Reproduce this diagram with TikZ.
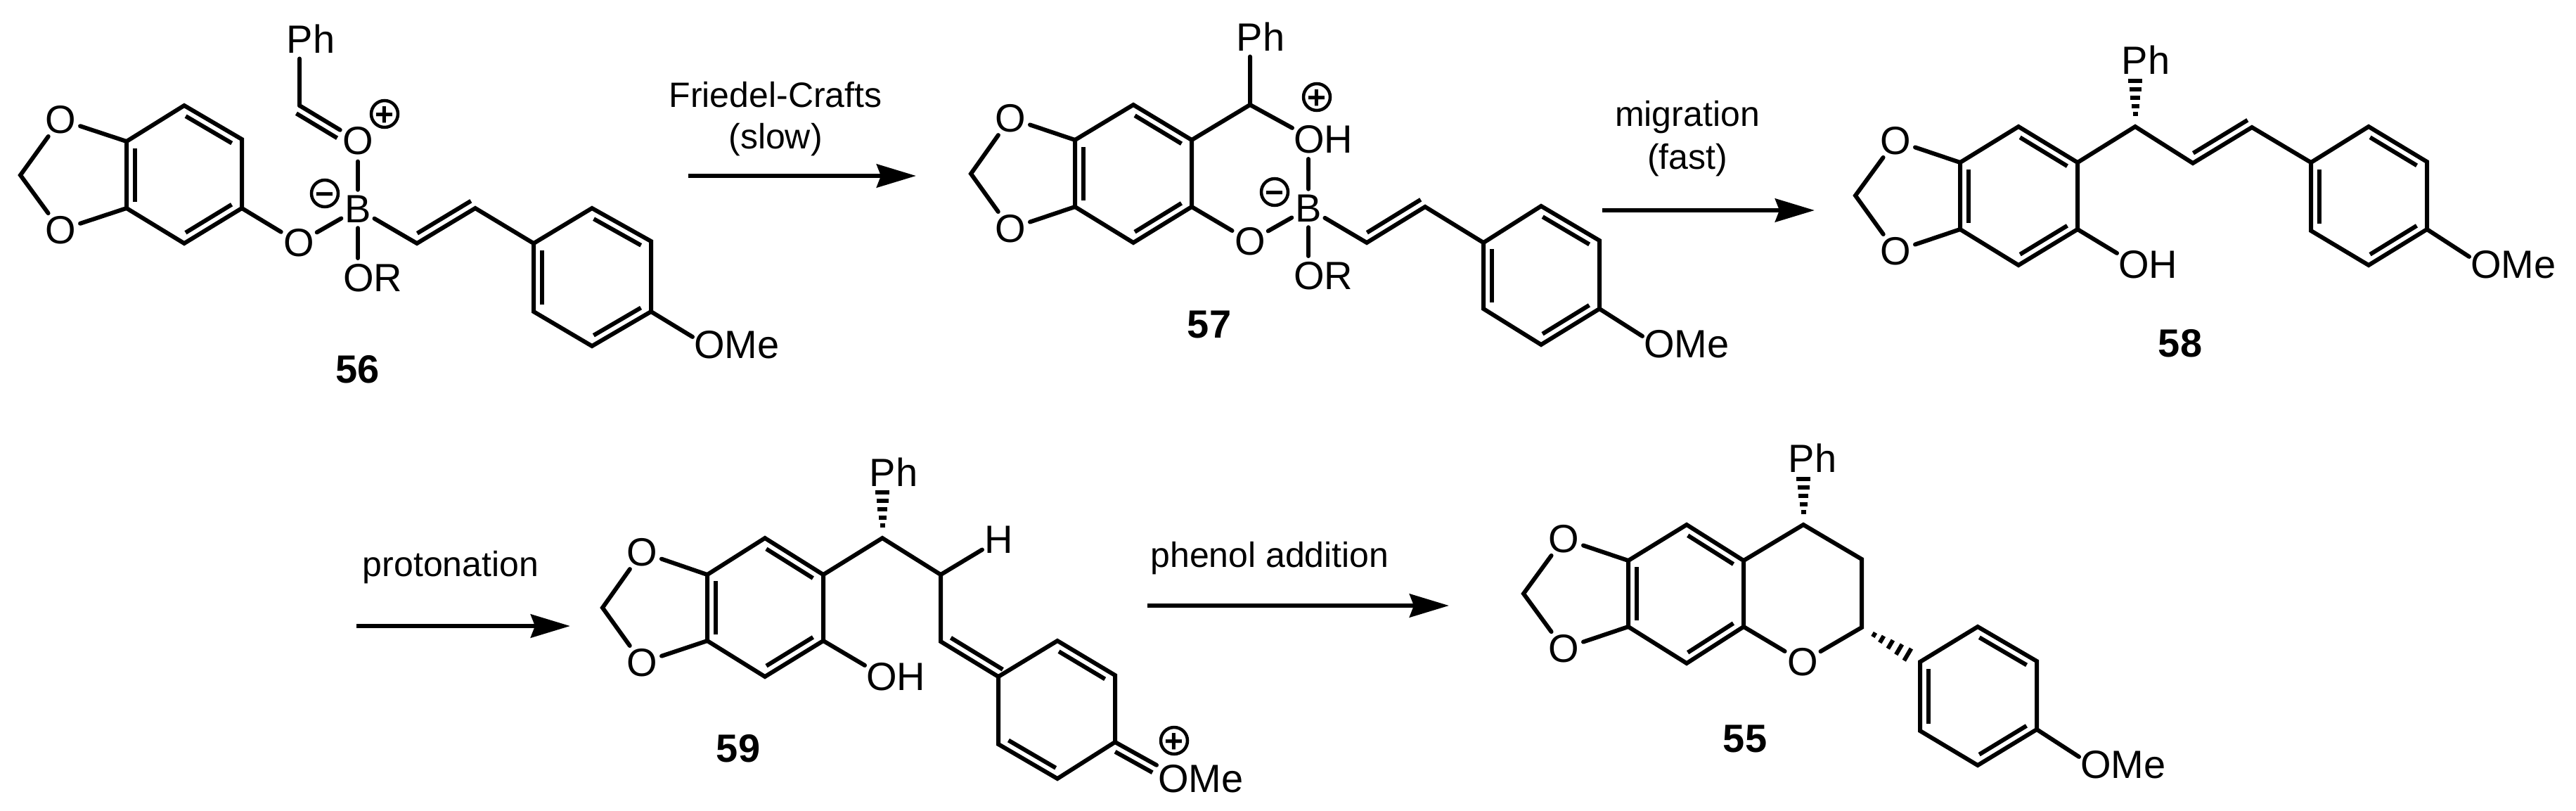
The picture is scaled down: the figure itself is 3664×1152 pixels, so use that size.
\documentclass[tikz,border=0pt]{standalone}
\usepackage{fontspec}
\setmainfont{Liberation Sans}
\usetikzlibrary{calc,arrows.meta}
\tikzset{
  bd/.style={line width=6pt,line cap=round,line join=miter,black},
  bdi/.style={line width=6pt,line cap=butt,black},
  atom/.style={circle,inner sep=0pt,minimum size=54pt,font=\fontsize{56}{60}\selectfont},
  grp/.style={inner xsep=2pt,inner ysep=8pt,font=\fontsize{56}{60}\selectfont},
  grpw/.style={grp,anchor=west},
  tx/.style={inner sep=0pt,font=\fontsize{50}{56}\selectfont},
  num/.style={inner sep=0pt,font=\bfseries\fontsize{56}{60}\selectfont},
  chg/.style={circle,draw,line width=4.5pt,minimum size=38pt,inner sep=0pt,font=\bfseries\fontsize{46}{46}\selectfont},
  rxn/.style={line width=6.5pt,-{Stealth[length=56pt,width=33pt,inset=6pt]}},
}
\newcommand{\chgsym}[1]{\makebox[0pt]{\raisebox{0pt}[.7em][0pt]{#1}}}
% #1,#2 ends, #3 side angle, #4,#5 fractions along the bond
\newcommand{\dblx}[5]{\draw[bdi] ($(#1)!#4!(#2)+($(#1)!12pt!#3:(#2)$)-(#1)$) -- ($(#1)!#5!(#2)+($(#1)!12pt!#3:(#2)$)-(#1)$);}
\newcommand{\dbl}[2]{\dblx{#1}{#2}{-90}{.1}{.9}}
% hashed wedge from narrow end #1 to wide end #2
\newcommand{\hashb}[2]{%
  \foreach \f/\w in {.26/3.5,.42/5.5,.6/7,.78/8.5,.96/10}{%
    \draw[line width=6pt,black] ($(#1)!\f!(#2)+($(#1)!\w pt!90:(#2)$)-(#1)$) -- ($(#1)!\f!(#2)+($(#1)!\w pt!-90:(#2)$)-(#1)$);}}
\newcommand{\ringsix}[7]{% name, six vertices clockwise from the top
  \coordinate (#1a) at (#2); \coordinate (#1b) at (#3); \coordinate (#1c) at (#4);
  \coordinate (#1d) at (#5); \coordinate (#1e) at (#6); \coordinate (#1f) at (#7);
  \draw[bd] (#1a)--(#1b)--(#1c)--(#1d)--(#1e)--(#1f)--cycle;
  \dbl{#1a}{#1b}\dbl{#1c}{#1d}\dbl{#1e}{#1f}}
% dioxole: ring name, O top, O bottom, CH2 position
\newcommand{\dioxole}[4]{%
  \node[atom] (#1ot) at (#2) {O};
  \node[atom] (#1ob) at (#3) {O};
  \coordinate (#1ch) at (#4);
  \draw[bd] (#1f)--(#1ot)--(#1ch)--(#1ob)--(#1e);}
\begin{document}
\begin{tikzpicture}[x=1pt,y=-1pt]
\useasboundingbox (0,0) rectangle (3664,1152);
% ---------- 56 ----------
\ringsix{Pa}{262,150}{344,198}{344,296}{262,346}{180,296}{180,201}
\dioxole{Pa}{86,170}{86,327}{29,249}
\node[atom] (Pol) at (425,345) {O};
\node[atom] (Pbo) at (509,297) {B};
\node[atom] (Pop) at (509,200) {O};
\coordinate (Pcar) at (426,150);
\node[grp] (Pph) at (442,55) {Ph};
\node[grpw] (Por) at (486,395) {OR};
\draw[bd] (Pcar) -- (Pcar |- Pph.south);
\draw[bd] (Pcar) -- (Pop);
\dblx{Pcar}{Pop}{-90}{.02}{.72}
\draw[bd] (Pbo.north) -- (Pop.south);
\draw[bd] (Pbo.south) -- (Pbo.south |- Por.north);
\draw[bd] (Pac) -- (Pol) -- (Pbo);
\node[chg] (Pplus) at (547,162) {\chgsym{+}};
\node[chg] (Pminus) at (462,275) {\chgsym{−}};
\coordinate (Pv1) at (593,346);
\coordinate (Pv2) at (676,296);
\ringsix{Pb}{842,296}{926,343}{926,443}{842,492}{759,443}{759,346}
\draw[bd] (Pbo) -- (Pv1) -- (Pv2) -- (Pbf);
\dblx{Pv1}{Pv2}{90}{.08}{1}
\node[grpw] (Pome) at (985,490) {OMe};
\draw[bd] (Pbc) -- (Pome.170);
\node[num] (Plab) at (509,525) {56};
% ---------- arrow 1 ----------
\coordinate (Rs1) at (979,250);
\coordinate (Re1) at (1303,250);
\draw[rxn] (Rs1) -- (Re1);
\node[tx] (Rt1a) at (1103,135) {Friedel-Crafts};
\node[tx] (Rt1b) at (1103,199) {(slow)};
% ---------- 57 ----------
\ringsix{Qa}{1612,149}{1695,199}{1695,294}{1612,345}{1529,294}{1529,199}
\dioxole{Qa}{1437,168}{1437,325}{1381,247}
\coordinate (Qch) at (1778,149);
\node[grp] (Qph) at (1793,52) {Ph};
\node[grpw] (Qoh) at (1838,198) {OH};
\node[atom] (Qbo) at (1861,296) {B};
\node[atom] (Qol) at (1778,343) {O};
\node[grpw] (Qor) at (1838,392) {OR};
\draw[bd] (Qab) -- (Qch) -- (Qch |- Qph.south);
\draw[bd] (Qch) -- (Qoh.160);
\draw[bd] (Qbo.north) -- (Qbo.north |- Qoh.south);
\draw[bd] (Qbo.south) -- (Qbo.south |- Qor.north);
\draw[bd] (Qac) -- (Qol) -- (Qbo);
\node[chg] (Qplus) at (1873,138) {\chgsym{+}};
\node[chg] (Qminus) at (1813,273) {\chgsym{−}};
\coordinate (Qv1) at (1944,345);
\coordinate (Qv2) at (2027,294);
\ringsix{Qb}{2192,293}{2275,342}{2275,439}{2192,490}{2110,439}{2110,345}
\draw[bd] (Qbo) -- (Qv1) -- (Qv2) -- (Qbf);
\dblx{Qv1}{Qv2}{90}{.08}{1}
\node[grpw] (Qome) at (2336,489) {OMe};
\draw[bd] (Qbc) -- (Qome.170);
\node[num] (Qlab) at (1720,461) {57};
% ---------- arrow 2 ----------
\coordinate (Rs2) at (2279,299);
\coordinate (Re2) at (2581,299);
\draw[rxn] (Rs2) -- (Re2);
\node[tx] (Rt2a) at (2400,167) {migration};
\node[tx] (Rt2b) at (2400,228) {(fast)};
% ---------- 58 ----------
\ringsix{Sa}{2871,180}{2955,231}{2955,326}{2871,377}{2788,326}{2788,231}
\dioxole{Sa}{2696,200}{2696,357}{2639,278}
\coordinate (Sch) at (3037,180);
\coordinate (Shs) at (3037,112);
\node[grp] (Sph) at (3052,85) {Ph};
\hashb{Sch}{Shs}
\coordinate (Sv1) at (3119,232);
\coordinate (Sv2) at (3203,181);
\ringsix{Sb}{3369,180}{3452,230}{3452,326}{3369,377}{3287,328}{3287,231}
\draw[bd] (Sab) -- (Sch) -- (Sv1) -- (Sv2) -- (Sbf);
\dblx{Sv1}{Sv2}{90}{.08}{1}
\node[grpw] (Soh) at (3011,376) {OH};
\draw[bd] (Sac) -- (Soh.160);
\node[grpw] (Some) at (3512,376) {OMe};
\draw[bd] (Sbc) -- (Some.170);
\node[num] (Slab) at (3101,488) {58};
% ---------- arrow 3 ----------
\coordinate (Rs3) at (507,890);
\coordinate (Re3) at (811,890);
\draw[rxn] (Rs3) -- (Re3);
\node[tx] (Rt3) at (641,807) {protonation};
% ---------- 59 ----------
\ringsix{Ta}{1088,765}{1171,817}{1171,911}{1088,962}{1006,911}{1006,817}
\dioxole{Ta}{913,785}{913,942}{857,864}
\coordinate (Tch) at (1255,765);
\coordinate (Ths) at (1255,697);
\node[grp] (Tph) at (1271,671) {Ph};
\hashb{Tch}{Ths}
\coordinate (Tc2) at (1338,817);
\coordinate (Tc3) at (1338,912);
\node[atom,minimum size=40pt] (Th) at (1421,767) {H};
\coordinate (Tr1) at (1420,962);
\draw[bd] (Tab) -- (Tch) -- (Tc2) -- (Tc3) -- (Tr1);
\draw[bd] (Tc2) -- (Th);
\dblx{Tc3}{Tr1}{90}{.1}{1}
\coordinate (Tr2) at (1504,911);
\coordinate (Tr3) at (1586,960);
\coordinate (Tr4) at (1586,1055);
\coordinate (Tr5) at (1504,1107);
\coordinate (Tr6) at (1420,1058);
\draw[bd] (Tr1) -- (Tr2) -- (Tr3) -- (Tr4) -- (Tr5) -- (Tr6) -- (Tr1);
\dbl{Tr2}{Tr3}
\dbl{Tr5}{Tr6}
\node[grpw] (Tome) at (1645,1107) {OMe};
\draw[bd] (Tr4) -- (Tome.163);
\dblx{Tr4}{Tome.163}{-90}{.1}{1}
\node[chg] (Tplus) at (1670,1053) {\chgsym{+}};
\node[grpw] (Toh) at (1230,962) {OH};
\draw[bd] (Tac) -- (Toh.160);
\node[num] (Tlab) at (1050,1064) {59};
% ---------- arrow 4 ----------
\coordinate (Rs4) at (1632,861);
\coordinate (Re4) at (2061,861);
\draw[rxn] (Rs4) -- (Re4);
\node[tx] (Rt4) at (1806,794) {phenol addition};
% ---------- 55 ----------
\ringsix{Ua}{2399,746}{2480,797}{2480,891}{2399,943}{2316,891}{2316,797}
\dioxole{Ua}{2224,766}{2224,922}{2167,844}
\coordinate (Uch) at (2565,746);
\coordinate (Uhs) at (2565,678);
\node[grp] (Uph) at (2578,651) {Ph};
\hashb{Uch}{Uhs}
\coordinate (Uc2) at (2648,795);
\coordinate (Uc3) at (2648,892);
\node[atom] (Uor) at (2564,941) {O};
\draw[bd] (Uab) -- (Uch) -- (Uc2) -- (Uc3) -- (Uor) -- (Uac);
\ringsix{Ub}{2813,891}{2897,940}{2897,1037}{2813,1088}{2731,1039}{2731,941}
\coordinate (Uht) at ($(Uc3)!.82!(Ubf)$);
\hashb{Uc3}{Uht}
\node[grpw] (Uome) at (2957,1087) {OMe};
\draw[bd] (Ubc) -- (Uome.170);
\node[num] (Ulab) at (2482,1050) {55};
\end{tikzpicture}
\end{document}
